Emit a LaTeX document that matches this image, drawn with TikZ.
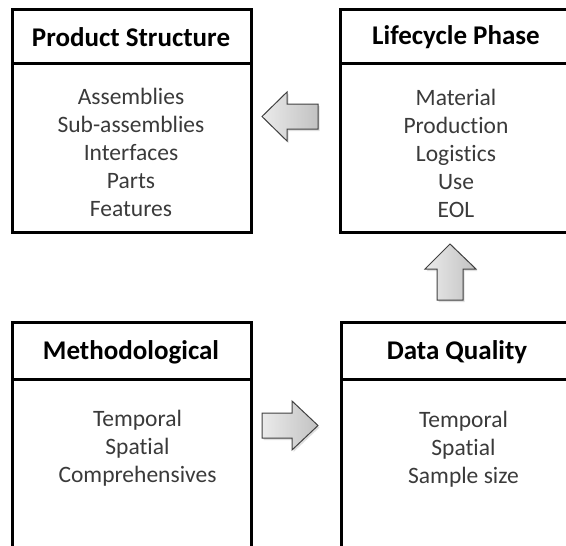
\documentclass[tikz,border=0pt]{standalone}
\usepackage{fontspec}
\setmainfont{Carlito}[Ligatures={NoCommon,NoContextual}]
\usetikzlibrary{shadows}
\definecolor{bodytext}{HTML}{3A3A3A}
\definecolor{arrowline}{HTML}{404040}
\tikzset{
  boxline/.style={line width=3pt, draw=black},
  headtext/.style={font=\fontsize{27}{32}\selectfont\bfseries, text=black, inner sep=0pt},
  bodytextstyle/.style={font=\fontsize{23.5}{28}\selectfont, text=bodytext, align=center, inner sep=0pt},
  blockarrow/.style={draw=arrowline, line width=1pt, line join=miter, left color=black!8, right color=black!24,
    drop shadow={opacity=0.25, shadow xshift=1.5pt, shadow yshift=-2pt}}
}
\begin{document}
\begin{tikzpicture}[x=1pt, y=-1pt]
\useasboundingbox (0,0) rectangle (566,546);
\clip (0,0) rectangle (566,546);
% boxes
\draw[boxline] (12,9) rectangle (251,232);
\draw[boxline] (12,63) -- (251,63);
\draw[boxline] (340,9) rectangle (573,232);
\draw[boxline] (340,63) -- (573,63);
\draw[boxline] (12,580) -- (12,322) -- (251,322) -- (251,580);
\draw[boxline] (12,379) -- (251,379);
\draw[boxline] (341,580) -- (341,322) -- (575,322) -- (575,580);
\draw[boxline] (341,379) -- (575,379);
% headers
\node[headtext] (ps) at (131,37) {Product Structure};
\node[headtext] (lp) at (456,37) {Lifecycle Phase};
\node[headtext] (me) at (131,352) {Methodological};
\node[headtext] (dq) at (457,352) {Data Quality};
% bodies
\node[bodytextstyle] (psb) at (131,152.5) {Assemblies\\Sub-assemblies\\Interfaces\\Parts\\Features};
\node[bodytextstyle] (lpb) at (456,153.5) {Material\\Production\\Logistics\\Use\\EOL};
\node[bodytextstyle] (meb) at (137.5,448) {Temporal\\Spatial\\Comprehensives};
\node[bodytextstyle] (dqb) at (463.5,449.5) {Temporal\\Spatial\\Sample size};
% block arrows
\draw[blockarrow] (318,104) -- (287,104) -- (287,92) -- (262,116.5) -- (287,141) -- (287,129) -- (318,129) -- cycle;
\draw[blockarrow] (437,300) -- (437,269) -- (425,269) -- (450,244) -- (476,269) -- (463,269) -- (463,300) -- cycle;
\draw[blockarrow] (262,413) -- (292,413) -- (292,401) -- (318,425.5) -- (292,450) -- (292,438) -- (262,438) -- cycle;
\end{tikzpicture}
\end{document}
